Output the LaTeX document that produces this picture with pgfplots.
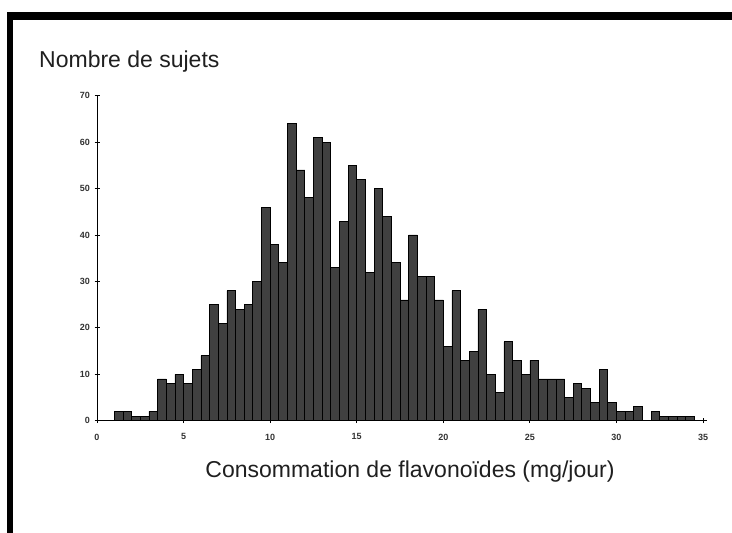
\documentclass[border=0pt]{standalone}
\usepackage{pgfplots}
\pgfplotsset{compat=1.18}
\usepackage{pgfplotstable}
\usepackage{fontspec}
\setmainfont{Liberation Sans}
\pgfplotstableread{
x y
1.0 2
1.5 2
2.0 1
2.5 1
3.0 2
3.5 9
4.0 8
4.5 10
5.0 8
5.5 11
6.0 14
6.5 25
7.0 21
7.5 28
8.0 24
8.5 25
9.0 30
9.5 46
10.0 38
10.5 34
11.0 64
11.5 54
12.0 48
12.5 61
13.0 60
13.5 33
14.0 43
14.5 55
15.0 52
15.5 32
16.0 50
16.5 44
17.0 34
17.5 26
18.0 40
18.5 31
19.0 31
19.5 26
20.0 16
20.5 28
21.0 13
21.5 15
22.0 24
22.5 10
23.0 6
23.5 17
24.0 13
24.5 10
25.0 13
25.5 9
26.0 9
26.5 9
27.0 5
27.5 8
28.0 7
28.5 4
29.0 11
29.5 4
30.0 2
30.5 2
31.0 3
31.5 0
32.0 2
32.5 1
33.0 1
33.5 1
34.0 1
34.5 1
}\histdata
\begin{document}
\begin{tikzpicture}
\path[use as bounding box] (0pt,0pt) rectangle (732pt,533pt);
\fill[black] (7pt,0pt) rectangle (13pt,521pt);
\fill[black] (7pt,512.5pt) rectangle (732pt,521pt);
\node[anchor=base west, inner sep=0pt, font=\fontsize{23}{26}\selectfont, text=black!88] at (39pt,465.7pt) {Nombre de sujets};
\node[anchor=base, inner sep=0pt, font=\fontsize{23}{26}\selectfont, text=black!88] at (410pt,55pt) {Consommation de flavonoïdes (mg/jour)};
\begin{axis}[
  at={(97pt,112.3pt)}, anchor=south west,
  scale only axis, width=609.5pt, height=325pt,
  xmin=0, xmax=35.2, ymin=0, ymax=70,
  axis lines=left,
  axis line style={-, black, line width=0.8pt},
  xtick={0,5,...,35}, ytick={0,10,...,70},
  tick align=center, major tick length=5pt,
  tick style={black, line width=0.8pt},
  /pgf/number format/assume math mode=true,
  ticklabel style={font=\bfseries\fontsize{9}{10}\selectfont, text=black!80},
  xticklabel style={yshift=-7pt},
  yticklabel style={xshift=-1pt},
  clip=false,
]
\addplot[ybar interval, fill=black!75, draw=black, line width=0.7pt] table[x=x,y=y] {\histdata};
\end{axis}
\end{tikzpicture}
\end{document}
